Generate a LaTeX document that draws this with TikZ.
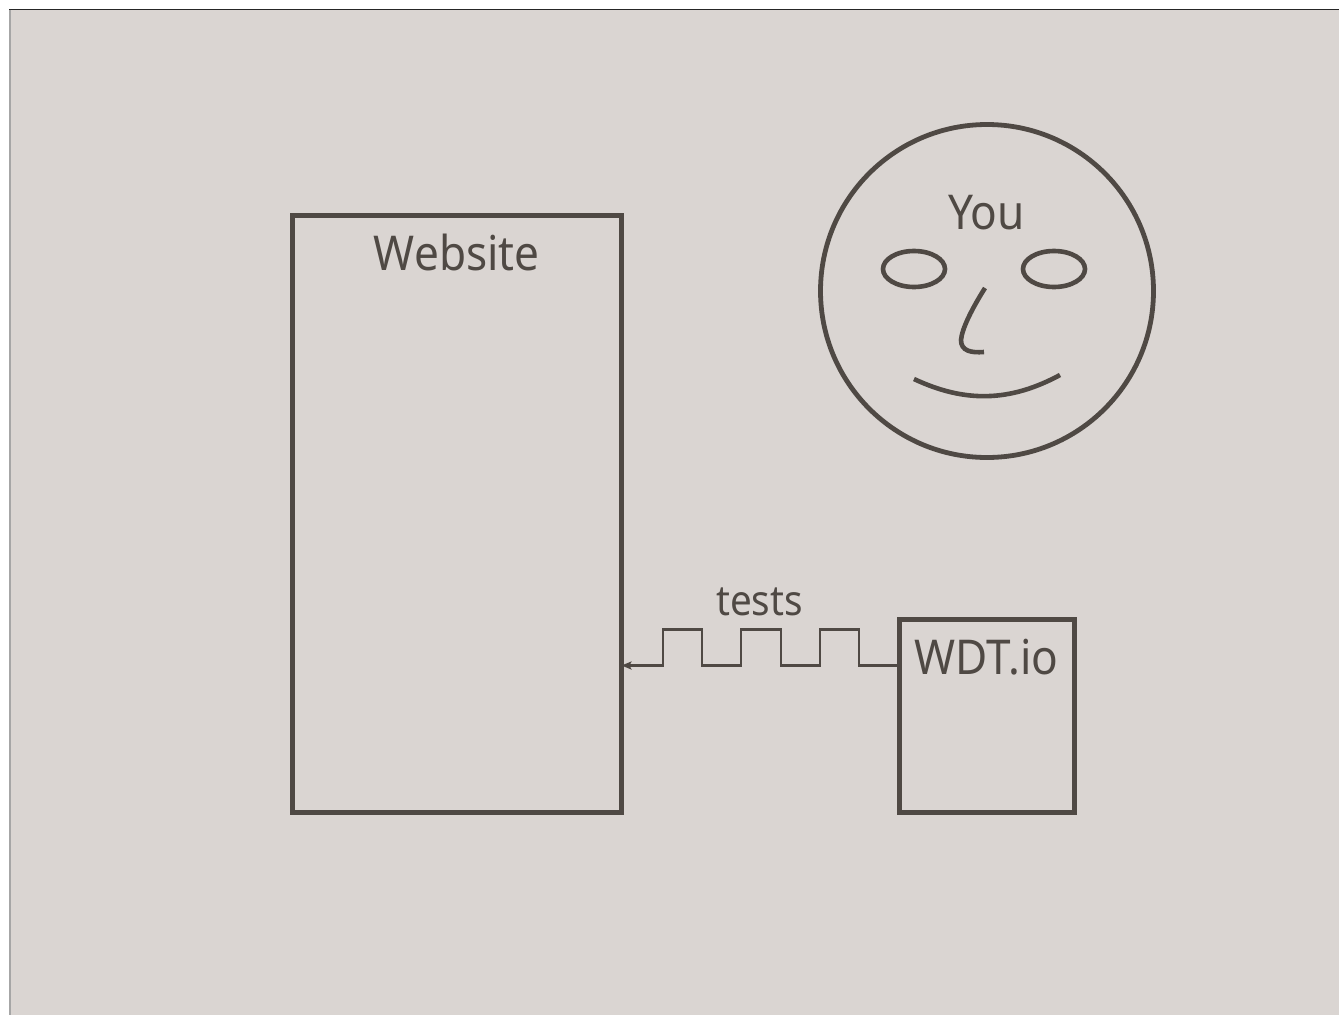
\documentclass[tikz,border=0pt]{standalone}
\usepackage{fontspec}
\setmainfont{Noto Sans}
\usetikzlibrary{arrows.meta,calc}
\definecolor{bg}{HTML}{DAD5D2}
\definecolor{ink}{HTML}{4F4944}
\newcommand{\narrowtext}[1]{\scalebox{0.92}[1]{#1}}
\tikzset{
  boxed/.style={draw=ink,line width=5pt,minimum width=#1,inner sep=0pt,outer sep=0pt},
  label/.style={text=ink,inner sep=0pt,anchor=base},
  faceline/.style={draw=ink,line width=4.6pt},
  wire/.style={draw=ink,line width=2.6pt}
}
\begin{document}
\begin{tikzpicture}[x=1pt,y=-1pt]
\useasboundingbox (0,0) rectangle (1339,1015);
\fill[white] (0,0) rectangle (1339,1015);
\fill[bg] (9.5,9) rectangle (1339,1015);
\draw[black!85,line width=1pt] (9,9.5) -- (1339,9.5);
\draw[black!35,line width=1.5pt] (9.8,9.5) -- (9.8,1015);
% boxes
\node[boxed=329.5pt,minimum height=597pt] (website) at (456.75,514) {};
\node[boxed=175pt,minimum height=193.5pt] (wdt) at (986.5,715.75) {};
\node[draw=ink,line width=4.8pt,circle,minimum size=333pt,inner sep=0pt,outer sep=0pt] (face) at (987,291) {};
% face
\draw[faceline] (914,269) ellipse [x radius=31,y radius=18];
\draw[faceline] (1054,269) ellipse [x radius=31,y radius=18];
\draw[faceline] (985,288) .. controls (973,307) and (962,328) .. (961,340) .. controls (961,351) and (971,353) .. (984,352);
\draw[faceline] (914,379) .. controls (965,403) and (1010,402) .. (1060,375);
% labels
\node[label,font=\fontsize{48}{48}\selectfont] (twebsite) at (456.8,270) {\narrowtext{Website}};
\node[label,font=\fontsize{48}{48}\selectfont] (tyou) at (986.5,229) {\narrowtext{You}};
\node[label,font=\fontsize{48}{48}\selectfont] (twdt) at (986.5,674) {\narrowtext{WDT.io}};
\node[label,font=\fontsize{42}{42}\selectfont] (ttests) at (759.5,615) {\narrowtext{tests}};
% connector
\draw[wire,-{Stealth[length=10pt,width=8pt,inset=2pt]}] (wdt.west |- 0,665.5) -- (859,665.5) -- (859,629.5) -- (820,629.5) -- (820,665.5) -- (781,665.5) -- (781,629.5) -- (741,629.5) -- (741,665.5) -- (702,665.5) -- (702,629.5) -- (663,629.5) -- (663,665.5) -- (website.east |- 0,665.5);
\end{tikzpicture}
\end{document}
